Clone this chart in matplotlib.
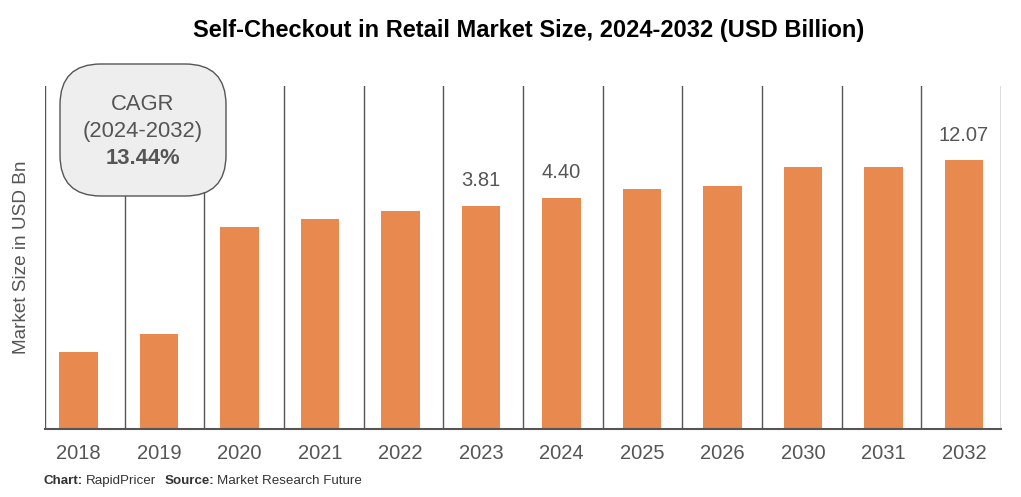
import matplotlib.pyplot as plt
from matplotlib.patches import FancyBboxPatch
import numpy as np

plt.rcParams['font.family'] = ['Liberation Sans', 'DejaVu Sans']

# data (bar heights, relative units; axis has no scale)
years = ["2018", "2019", "2020", "2021", "2022", "2023", "2024", "2025", "2026", "2030", "2031", "2032"]
heights = [76.7, 94.7, 201.7, 209.7, 217.7, 223.0, 231.0, 239.4, 243.0, 262.0, 262.0, 268.4]
value_labels = {"2023": "3.81", "2024": "4.40", "2032": "12.07"}

bar_color = "#E8894F"
grey = "#555555"

fig = plt.figure(figsize=(10.21, 4.97), dpi=100)
ax = fig.add_axes([45 / 1021, (497 - 428.7) / 497, (1001 - 45) / 1021, (428.7 - 86) / 497])

x = np.arange(len(years))
ax.bar(x, heights, width=0.48, color=bar_color, zorder=2)

# vertical separators
for xv in np.linspace(-0.416, 11.46, 13):
    ax.axvline(xv, color=grey, lw=1.0, zorder=1)

for i, y in enumerate(years):
    if y in value_labels:
        ax.annotate(value_labels[y], (i, heights[i]), xytext=(0, 18), textcoords="offset points",
                    ha="center", va="center", fontsize=14.5, color=grey)

ax.set_xlim(-0.416, 11.46)
ax.set_ylim(0, 342.7)
ax.set_xticks(x)
ax.set_xticklabels(years, fontsize=14.5, color=grey)
ax.tick_params(axis="x", length=0, pad=11)
ax.set_yticks([])
for s in ["top", "right", "left"]:
    ax.spines[s].set_visible(False)
ax.spines["bottom"].set_color(grey)
ax.spines["bottom"].set_linewidth(1.5)
ax.set_ylabel("Market Size in USD Bn", fontsize=13.7, color=grey, labelpad=11)

fig.text(0.518, 1 - 30 / 497, "Self-Checkout in Retail Market Size, 2024-2032 (USD Billion)",
         ha="center", va="center", fontsize=17, fontweight="bold", color="black")

# CAGR box
box = FancyBboxPatch((60 / 1021, 1 - 196 / 497), 166 / 1021, 132 / 497,
                     boxstyle="round,pad=0,rounding_size=0.04", transform=fig.transFigure,
                     facecolor="#EEEEEE", edgecolor=grey, lw=1.0, zorder=5, mutation_aspect=2.05)
fig.add_artist(box)
fig.text(143 / 1021, 1 - 105 / 497, "CAGR", ha="center", va="center", fontsize=15.8, color=grey, zorder=6)
fig.text(143 / 1021, 1 - 131 / 497, "(2024-2032)", ha="center", va="center", fontsize=15.8, color=grey, zorder=6)
fig.text(143 / 1021, 1 - 158 / 497, "13.44%", ha="center", va="center", fontsize=15.8,
         fontweight="bold", color=grey, zorder=6)

# footer, pieces placed one after another
fy = 1 - 481 / 497
r = fig.canvas.get_renderer()
xpos = 44
for txt, bold, gap in [("Chart:", True, 3), ("RapidPricer", False, 8),
                       ("Source:", True, 3), ("Market Research Future", False, 0)]:
    t = fig.text(xpos / 1021, fy, txt, fontsize=9.6, fontweight="bold" if bold else "normal",
                 color="#333333", va="center")
    xpos += t.get_window_extent(r).width + gap

plt.savefig("out.png", dpi=100)
